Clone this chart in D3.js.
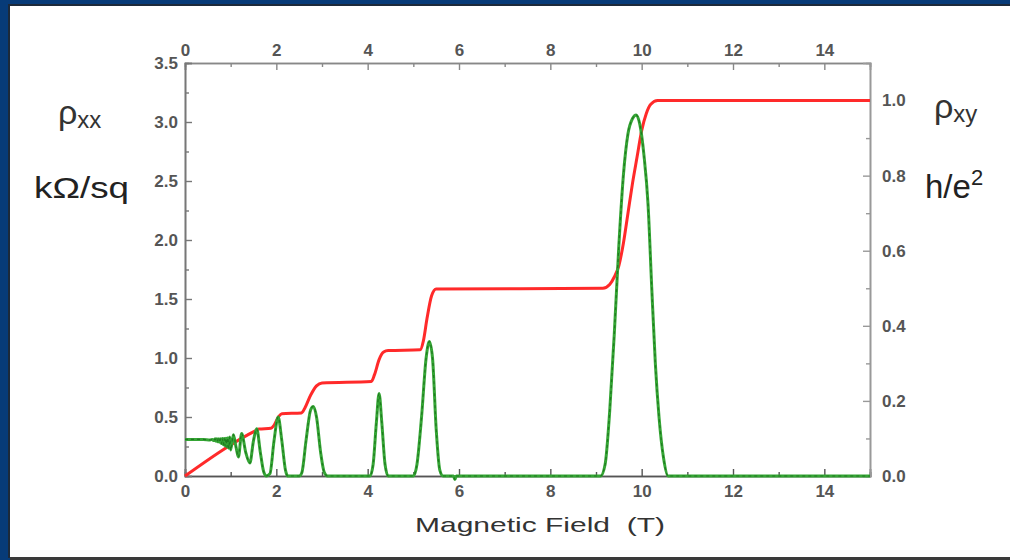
<!DOCTYPE html>
<html lang="en">
<head>
<meta charset="UTF-8">
<title>Quantum Hall effect</title>
<script src="https://cdn.jsdelivr.net/npm/d3@7"></script>
<style>
    body { margin: 0; background: #fff; }
    svg text { font-family: Arial, "Liberation Sans", sans-serif; }
</style>
</head>
<body>
<svg id="chart" width="1010" height="560"></svg>
<script>
    // field values (T), rho_xx in kOhm/sq (left axis)
    var rhoXX = [
        [0, 0.31], [0.2, 0.31], [0.4, 0.31], [0.55, 0.305],
        [0.6, 0.31], [0.63, 0.30], [0.66, 0.315], [0.68, 0.295], [0.7, 0.315], [0.72, 0.29],
        [0.74, 0.315], [0.76, 0.285], [0.78, 0.315], [0.8, 0.275], [0.82, 0.318], [0.84, 0.265],
        [0.86, 0.318], [0.88, 0.255], [0.9, 0.32], [0.92, 0.245], [0.94, 0.325], [0.96, 0.235],
        [0.98, 0.33], [1.0, 0.22], [1.06, 0.35], [1.12, 0.24], [1.17, 0.16], [1.24, 0.36],
        [1.33, 0.2], [1.42, 0.11], [1.5, 0.3], [1.57, 0.40], [1.65, 0.2], [1.72, 0.04],
        [1.78, 0.0], [1.86, 0.02], [1.95, 0.3], [2.04, 0.50], [2.12, 0.3], [2.2, 0.05],
        [2.25, 0], [2.5, 0], [2.56, 0.03], [2.65, 0.3], [2.75, 0.56], [2.81, 0.59],
        [2.88, 0.5], [2.97, 0.2], [3.05, 0.03], [3.12, 0], [4.05, 0], [4.12, 0.1],
        [4.19, 0.45], [4.25, 0.70], [4.31, 0.45], [4.38, 0.1], [4.45, 0], [5.0, 0],
        [5.08, 0.1], [5.18, 0.5], [5.28, 1.0], [5.35, 1.14], [5.42, 1.0], [5.5, 0.4],
        [5.58, 0.05], [5.65, 0], [5.88, 0], [5.91, -0.03], [5.94, 0], [9.1, 0],
        [9.2, 0.1], [9.3, 0.55], [9.4, 1.2], [9.5, 1.95], [9.6, 2.55], [9.7, 2.9],
        [9.8, 3.03], [9.88, 3.06], [9.96, 2.98], [10.05, 2.72], [10.14, 2.3], [10.22, 1.6],
        [10.3, 0.95], [10.38, 0.5], [10.48, 0.15], [10.58, 0], [15, 0]
    ];

    // rho_xy in h/e^2 (right axis)
    var rhoXY = [
        [0, 0], [1.57, 0.122], [1.62, 0.125], [1.88, 0.127], [1.95, 0.135], [2.05, 0.158],
        [2.12, 0.166], [2.55, 0.168], [2.62, 0.18], [2.75, 0.215], [2.88, 0.24], [3.0, 0.248],
        [4.08, 0.252], [4.15, 0.27], [4.25, 0.31], [4.35, 0.33], [4.45, 0.334], [5.15, 0.336],
        [5.22, 0.36], [5.3, 0.42], [5.4, 0.48], [5.5, 0.498], [9.15, 0.5], [9.3, 0.51],
        [9.4, 0.53], [9.5, 0.56], [9.6, 0.62], [9.7, 0.7], [9.8, 0.78], [9.9, 0.85],
        [10.0, 0.92], [10.1, 0.965], [10.2, 0.99], [10.35, 1.0], [15, 1.0]
    ];

    var fieldTicks = [0, 2, 4, 6, 8, 10, 12, 14];
    var fieldMinor = [1, 3, 5, 7, 9, 11, 13];
    var leftTicks = [0, 0.5, 1.0, 1.5, 2.0, 2.5, 3.0, 3.5];
    var leftMinor = [0.25, 0.75, 1.25, 1.75, 2.25, 2.75, 3.25];
    var rightTicks = [0, 0.2, 0.4, 0.6, 0.8, 1.0];
    var rightMinor = [0.1, 0.3, 0.5, 0.7, 0.9];

    var svg = d3.select("#chart");

    // frame of the slide
    svg.append("rect").attr("width", 1010).attr("height", 560).attr("fill", "#073b78");
    svg.append("rect").attr("x", 8).attr("y", 4).attr("width", 1002).attr("height", 554).attr("fill", "#1d2a3a");
    svg.append("rect").attr("x", 10).attr("y", 6).attr("width", 1000).attr("height", 551).attr("fill", "#ffffff");
    svg.append("rect").attr("x", 10).attr("y", 557).attr("width", 1000).attr("height", 3).attr("fill", "#3a3a3a");

    var plotLeft = 185, plotRight = 870, plotTop = 63, plotBottom = 476;

    var x = d3.scaleLinear().domain([0, 15]).range([plotLeft, plotRight]);
    var yL = d3.scaleLinear().domain([0, 3.5]).range([plotBottom, plotTop]);
    var yR = d3.scaleLinear().domain([0, 1.1]).range([plotBottom, plotTop]);

    function styleAxis(g, color) {
        g.select(".domain").attr("stroke", color).attr("stroke-width", 1.6);
        g.selectAll(".tick line").attr("stroke", color).attr("stroke-width", 1.4);
        g.selectAll(".tick text").attr("fill", "#555").attr("font-size", 17)
            .attr("font-weight", "bold").style("font-family", "Arial, 'Liberation Sans', sans-serif");
    }

    // minor ticks first
    svg.append("g").attr("transform", "translate(0," + plotBottom + ")")
        .call(d3.axisBottom(x).tickValues(fieldMinor).tickSize(-4).tickFormat(""))
        .call(function (g) { styleAxis(g, "#555"); });
    svg.append("g").attr("transform", "translate(0," + plotTop + ")")
        .call(d3.axisTop(x).tickValues(fieldMinor).tickSize(-4).tickFormat(""))
        .call(function (g) { styleAxis(g, "#888"); });
    svg.append("g").attr("transform", "translate(" + plotLeft + ",0)")
        .call(d3.axisLeft(yL).tickValues(leftMinor).tickSize(-4).tickFormat(""))
        .call(function (g) { styleAxis(g, "#777"); });
    svg.append("g").attr("transform", "translate(" + plotRight + ",0)")
        .call(d3.axisRight(yR).tickValues(rightMinor).tickSize(-4).tickFormat(""))
        .call(function (g) { styleAxis(g, "#999"); });

    // major ticks
    svg.append("g").attr("transform", "translate(0," + plotBottom + ")")
        .call(d3.axisBottom(x).tickValues(fieldTicks).tickSize(-7).tickPadding(9).tickFormat(d3.format("d")))
        .call(function (g) { styleAxis(g, "#555"); });
    svg.append("g").attr("transform", "translate(0," + plotTop + ")")
        .call(d3.axisTop(x).tickValues(fieldTicks).tickSize(-7).tickPadding(7).tickFormat(d3.format("d")))
        .call(function (g) { styleAxis(g, "#888"); });
    svg.append("g").attr("transform", "translate(" + plotLeft + ",0)")
        .call(d3.axisLeft(yL).tickValues(leftTicks).tickSize(-7).tickPadding(7).tickFormat(d3.format(".1f")))
        .call(function (g) { styleAxis(g, "#777"); });
    svg.append("g").attr("transform", "translate(" + plotRight + ",0)")
        .call(d3.axisRight(yR).tickValues(rightTicks).tickSize(-7).tickPadding(12).tickFormat(d3.format(".1f")))
        .call(function (g) { styleAxis(g, "#999"); });

    // curves
    var lineXY = d3.line()
        .x(function (d) { return x(d[0]); })
        .y(function (d) { return yR(d[1]); })
        .curve(d3.curveMonotoneX);

    var lineXX = d3.line()
        .x(function (d) { return x(d[0]); })
        .y(function (d) { return yL(d[1]); })
        .curve(d3.curveMonotoneX);

    svg.append("path").datum(rhoXY)
        .attr("d", lineXY)
        .attr("fill", "none")
        .attr("stroke", "#ff2a2a")
        .attr("stroke-width", 3);

    svg.append("path").datum(rhoXX)
        .attr("d", lineXX)
        .attr("fill", "none")
        .attr("stroke", "#35a535")
        .attr("stroke-width", 3);
    svg.append("path").datum(rhoXX)
        .attr("d", lineXX)
        .attr("fill", "none")
        .attr("stroke", "#1f7a1f")
        .attr("stroke-width", 1.2)
        .attr("stroke-dasharray", "3,3");

    // axis titles
    var lt = svg.append("text").attr("x", 58).attr("y", 124).attr("fill", "#333").attr("font-size", 34);
    lt.append("tspan").text("ρ");
    lt.append("tspan").attr("font-size", 24).attr("dy", 4).text("xx");
    svg.append("text").attr("x", 34).attr("y", 198).attr("fill", "#222").attr("font-size", 30)
        .attr("textLength", 95).attr("lengthAdjust", "spacingAndGlyphs").text("kΩ/sq");

    var rt = svg.append("text").attr("x", 934).attr("y", 118).attr("fill", "#333").attr("font-size", 34);
    rt.append("tspan").text("ρ");
    rt.append("tspan").attr("font-size", 24).attr("dy", 4).text("xy");
    var he = svg.append("text").attr("x", 925).attr("y", 198).attr("fill", "#222").attr("font-size", 33);
    he.append("tspan").text("h/e");
    he.append("tspan").attr("font-size", 22).attr("dy", -13).text("2");

    svg.append("text")
        .attr("x", 540).attr("y", 532)
        .attr("text-anchor", "middle")
        .attr("fill", "#333")
        .attr("font-size", 21)
        .attr("textLength", 250)
        .attr("lengthAdjust", "spacingAndGlyphs")
        .attr("xml:space", "preserve")
        .text("Magnetic Field  (T)");
</script>
</body>
</html>
